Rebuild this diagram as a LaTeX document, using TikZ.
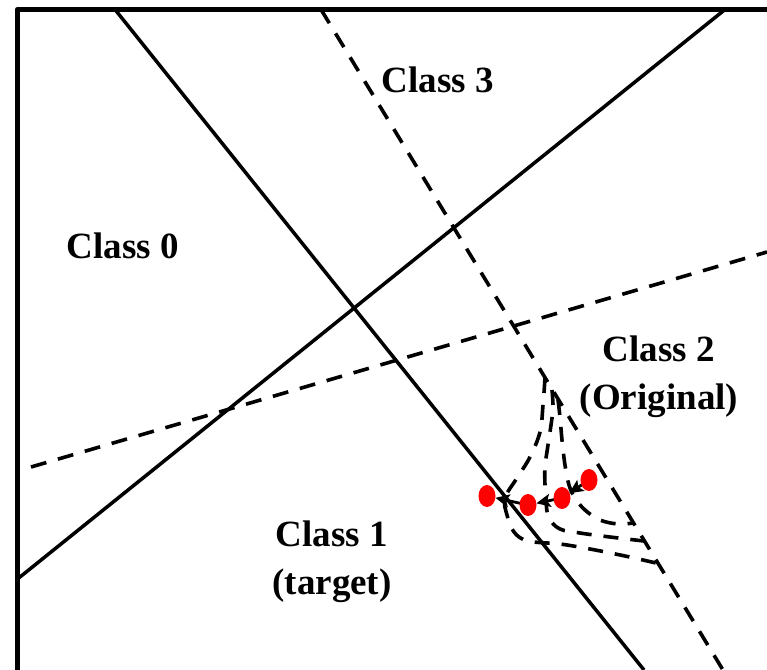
\documentclass[tikz,border=0pt]{standalone}
\usepackage{fontspec}
\setmainfont{Liberation Serif}
\usetikzlibrary{shapes.geometric,arrows.meta}
\tikzset{
  solidline/.style={line width=1.75pt},
  dashline/.style={line width=1.8pt, dash pattern=on 8pt off 6pt},
  curveline/.style={line width=1.8pt, dash pattern=on 7.5pt off 6pt},
  framebox/.style={line width=2.6pt, line join=round},
  reddot/.style={ellipse, fill=red, draw=none, minimum width=8.5pt, minimum height=11pt, inner sep=0pt},
  movearrow/.style={line width=1.4pt, -{Stealth[length=7pt,width=6.5pt,inset=1.5pt]}, shorten >=4.3pt},
  lbl/.style={font=\fontsize{18.5}{24}\selectfont\bfseries, align=center, inner sep=0pt}
}
\begin{document}
\begin{tikzpicture}[x=0.5pt,y=-0.5pt]
\useasboundingbox (0,0) rectangle (767,670);
\begin{scope}
\clip (0,0) rectangle (767,670);
% frame
\draw[framebox] (17.5,680) -- (17.5,9.5) -- (780,9.5);
% solid boundaries
\draw[solidline] (115,9.5) -- (644,670);
\draw[solidline] (17.5,579) -- (725,9.5);
% dashed boundaries
\draw[dashline] (321,9.5) -- (723,670);
\draw[dashline] (31,467) -- (767,252);
% deformed boundary curves
\draw[curveline] plot[smooth, tension=0.6] coordinates {(545,378) (543,405) (540,432) (530,457) (517,478) (505,498) (507,515) (514,532) (528,541) (560,544) (590,549) (625,556) (656,563)};
\draw[curveline] plot[smooth, tension=0.6] coordinates {(552,390) (553,408) (551,425) (548,445) (545,467) (545,485) (546,502) (549,518) (560,529) (580,533) (610,537) (644,541)};
\draw[curveline] plot[smooth, tension=0.6] coordinates {(558,400) (560,417) (562,440) (565,465) (569,485) (575,498) (585,510) (600,520) (618,524) (633,523)};
\end{scope}
% labels
\node[lbl] (c3) at (438,80) {Class 3};
\node[lbl] (c0) at (123,246) {Class 0};
\node[lbl] (c2) at (659,377) {Class 2\\(Original)};
\node[lbl] (c1) at (332,562) {Class 1\\(target)};
% point positions
\coordinate (p1) at (487,496);
\coordinate (p2) at (528,505);
\coordinate (p3) at (562,498);
\coordinate (p4) at (589,480);
% moves (tails hidden under the dots)
\draw[movearrow] (p4) -- (p3);
\draw[movearrow] (p3) -- (p2);
\draw[movearrow] (p2) -- (p1);
% points
\node[reddot] (d1) at (p1) {};
\node[reddot] (d2) at (p2) {};
\node[reddot] (d3) at (p3) {};
\node[reddot] (d4) at (p4) {};
\end{tikzpicture}
\end{document}
